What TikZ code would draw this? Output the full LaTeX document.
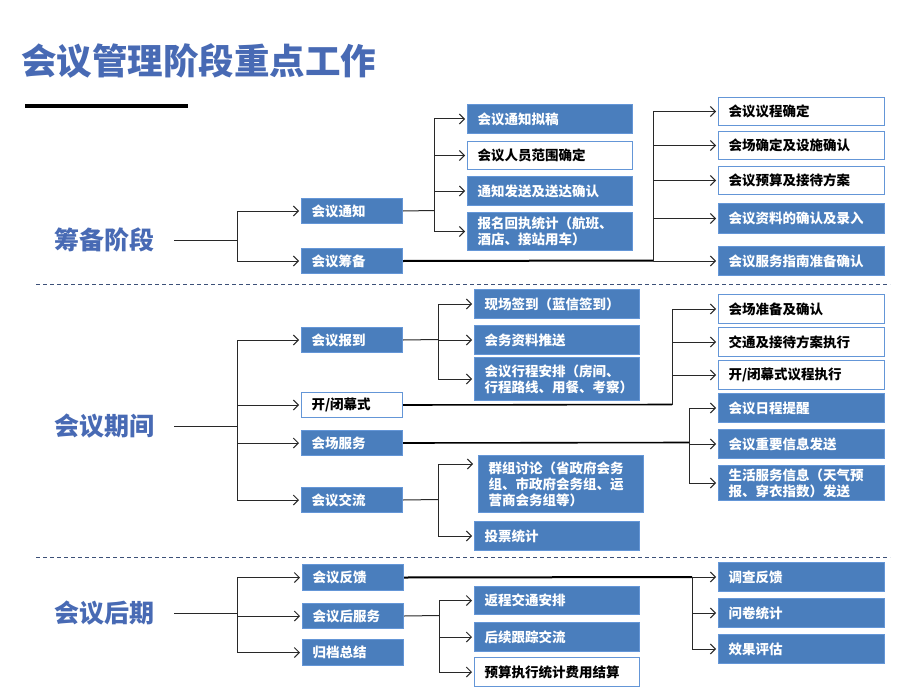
\documentclass[tikz,border=0pt]{standalone}
\usepackage{fontspec}
\setmainfont{Noto Sans CJK SC}
\usetikzlibrary{arrows.meta}
\definecolor{boxblue}{RGB}{74,126,189}
\definecolor{boxedge}{RGB}{100,150,215}
\definecolor{titleblue}{RGB}{72,106,180}
\definecolor{dashc}{RGB}{60,80,120}
\definecolor{linec}{RGB}{40,40,40}
\begin{document}
\begin{tikzpicture}[x=1pt,y=-1pt,
  base/.style={anchor=north west, inner xsep=10pt, inner ysep=0pt, align=left,
    font=\fontsize{13.5}{16}\selectfont\bfseries, line width=1pt},
  bb/.style={base, fill=boxblue, draw=boxedge, text=white},
  wb/.style={base, fill=white, draw=boxedge, text=black},
  sw/.style={minimum width=101pt, text width=81pt},
  mw/.style={minimum width=165pt, text width=145pt},
  rw/.style={minimum width=166pt, text width=146pt},
  bh/.style={minimum height=#1pt},
  phase/.style={text=titleblue, font=\fontsize{25}{28}\selectfont\bfseries, inner xsep=20pt},
  arr/.style={draw=linec, line width=1pt, -{Straight Barb[length=5pt,width=10pt]}, shorten >=2pt},
  ln/.style={draw=linec, line width=1pt},
  thk/.style={draw=black, line width=2pt},
  sep/.style={draw=dashc, line width=1pt, dash pattern=on 4pt off 3pt}
]
\useasboundingbox (0,0) rectangle (920,690);
\fill[white] (0,0) rectangle (920,690);

% title
\node[anchor=west, text=titleblue, font=\fontsize{35.5}{40}\selectfont\bfseries, inner sep=0pt] (title) at (21,61) {会议管理阶段重点工作};
\fill[black] (25,104) rectangle (188,108);

% separators
\draw[sep] (36,284) -- (890,284);
\draw[sep] (36,557) -- (890,557);

% phase labels
\node[phase] (p1) at (104,240) {筹备阶段};
\node[phase] (p2) at (104,426) {会议期间};
\node[phase] (p3) at (104,613) {会议后期};

% ---------- stage 1 ----------
\node[bb,sw,bh=25] (tz) at (301,198) {会议通知};
\node[bb,sw,bh=25] (cb) at (301,248) {会议筹备};
\node[bb,mw,bh=29] (a1) at (467,104) {会议通知拟稿};
\node[wb,mw,bh=28] (a2) at (467,141) {会议人员范围确定};
\node[bb,mw,bh=29] (a3) at (467,176) {通知发送及送达确认};
\node[bb,mw,bh=38] (a4) at (467,212) {报名回执统计（航班、\\酒店、接站用车）};
\node[wb,rw,bh=28] (r1) at (718,97) {会议议程确定};
\node[wb,rw,bh=28] (r2) at (718,131) {会场确定及设施确认};
\node[wb,rw,bh=28] (r3) at (718,166) {会议预算及接待方案};
\node[bb,rw,bh=30] (r4) at (718,203) {会议资料的确认及录入};
\node[bb,rw,bh=29] (r5) at (718,246) {会议服务指南准备确认};

\coordinate (b1) at (237,240);
\coordinate (j1) at (434,210.5);
\coordinate (j2) at (653,260.5);
\draw[ln] (p1.east) -- (b1);
\draw[arr] (b1) |- (tz.west);
\draw[arr] (b1) |- (cb.west);
\draw[ln] (tz.east) -- (j1);
\foreach \t in {a1,a2,a3,a4} \draw[arr] (j1) |- (\t.west);
\draw[thk] (cb.east) -- (j2);
\foreach \t in {r1,r2,r3,r4,r5} \draw[arr] (j2) |- (\t.west);

% ---------- stage 2 ----------
\node[bb,sw,bh=25] (bd) at (301,327) {会议报到};
\node[wb,sw,bh=25] (km) at (301,392) {开/闭幕式};
\node[bb,sw,bh=25] (cf) at (301,430) {会场服务};
\node[bb,sw,bh=25] (jl) at (301,487) {会议交流};
\node[bb,mw,bh=29] (m1) at (474,289) {现场签到（蓝信签到）};
\node[bb,mw,bh=29] (m2) at (474,325) {会务资料推送};
\node[bb,mw,bh=43] (m3) at (474,357) {会议行程安排（房间、\\行程路线、用餐、考察）};
\node[bb,mw,bh=57] (m4) at (478,455) {群组讨论（省政府会务\\组、市政府会务组、运\\营商会务组等）};
\node[bb,mw,bh=29] (m5) at (474,521) {投票统计};
\node[wb,rw,bh=29] (s1) at (718,294) {会场准备及确认};
\node[wb,rw,bh=29] (s2) at (718,327) {交通及接待方案执行};
\node[wb,rw,bh=29] (s3) at (718,360) {开/闭幕式议程执行};
\node[bb,rw,bh=29] (s4) at (718,393) {会议日程提醒};
\node[bb,rw,bh=29] (s5) at (718,429) {会议重要信息发送};
\node[bb,rw,bh=35] (s6) at (718,465) {生活服务信息（天气预\\报、穿衣指数）发送};

\coordinate (b2) at (237,426);
\coordinate (j3) at (438,339.5);
\coordinate (j4) at (438,499.5);
\coordinate (j5) at (672,404.5);
\coordinate (j6) at (689,442.5);
\draw[ln] (p2.east) -- (b2);
\foreach \t in {bd,km,cf,jl} \draw[arr] (b2) |- (\t.west);
\draw[ln] (bd.east) -- (j3);
\foreach \t in {m1,m2,m3} \draw[arr] (j3) |- (\t.west);
\draw[ln] (jl.east) -- (j4);
\draw[arr, shorten >=5pt] (j4) |- ([yshift=-9pt]m4.north west);
\draw[arr] (j4) |- (m5.west);
\draw[thk, line width=1.6pt] (km.east) -- (j5);
\foreach \t in {s1,s2,s3} \draw[arr] (j5) |- (\t.west);
\draw[thk, line width=1.6pt] (cf.east) -- (j6);
\foreach \t in {s4,s5,s6} \draw[arr] (j6) |- (\t.west);

% ---------- stage 3 ----------
\node[bb,sw,bh=26] (fk) at (302,564) {会议反馈};
\node[bb,sw,bh=25] (hf) at (302,603) {会议后服务};
\node[bb,sw,bh=26] (gd) at (302,639) {归档总结};
\node[bb,mw,bh=28] (t1) at (474,586) {返程交通安排};
\node[bb,mw,bh=29] (t2) at (474,622) {后续跟踪交流};
\node[wb,mw,bh=29] (t3) at (474,657) {预算执行统计费用结算};
\node[bb,rw,bh=29] (u1) at (718,562) {调查反馈};
\node[bb,rw,bh=29] (u2) at (718,598) {问卷统计};
\node[bb,rw,bh=29] (u3) at (718,634) {效果评估};

\coordinate (b3) at (237,613);
\coordinate (j7) at (439,615.5);
\coordinate (j8) at (692,577);
\draw[ln] (p3.east) -- (b3);
\foreach \t in {fk,hf,gd} \draw[arr] (b3) |- (\t.west);
\draw[ln] (hf.east) -- (j7);
\foreach \t in {t1,t2,t3} \draw[arr] (j7) |- (\t.west);
\draw[thk] (fk.east) -- (j8);
\foreach \t in {u1,u2,u3} \draw[arr] (j8) |- (\t.west);
\end{tikzpicture}
\end{document}
